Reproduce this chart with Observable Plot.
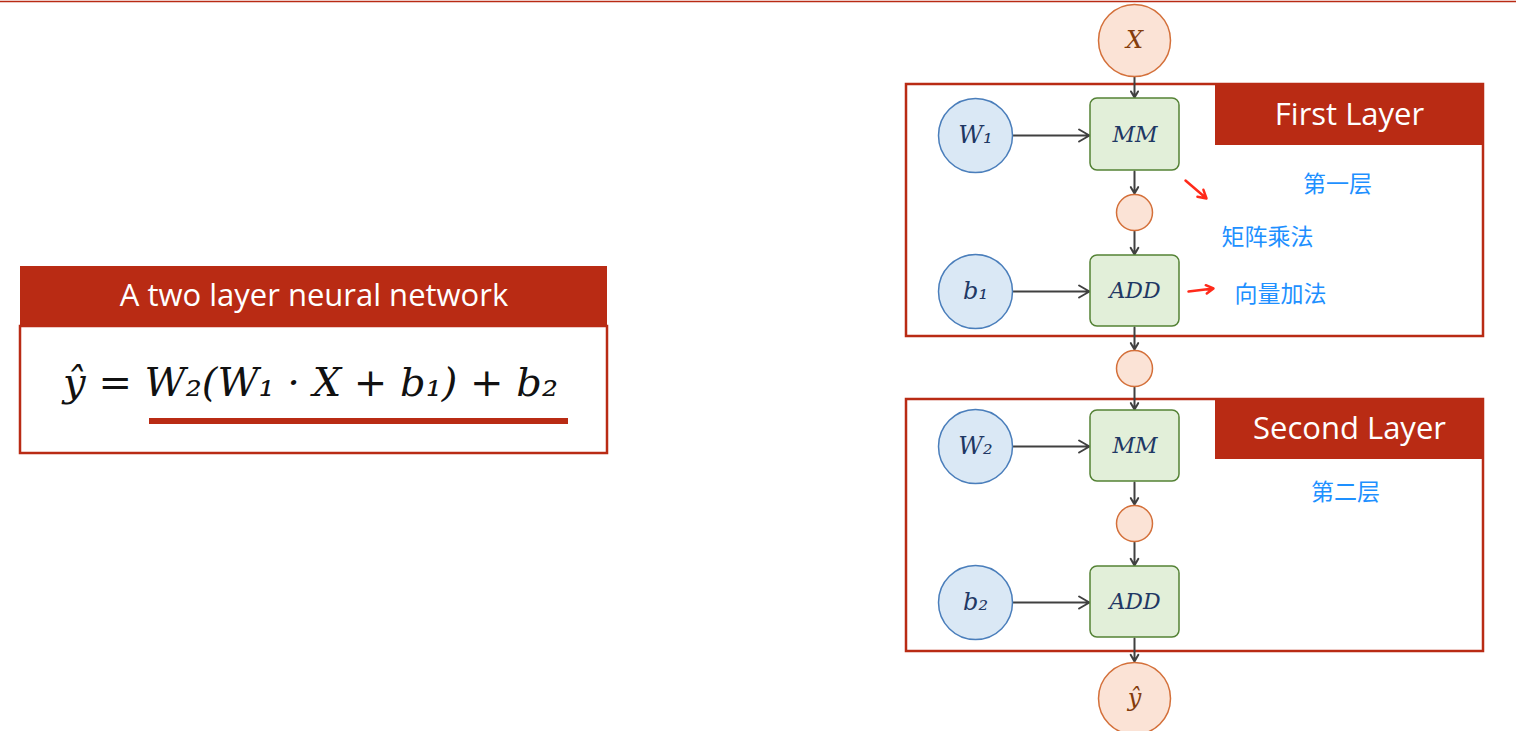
<!DOCTYPE html>
<html><head><meta charset="utf-8">
<script src="https://cdn.jsdelivr.net/npm/d3@7"></script>
<script src="https://cdn.jsdelivr.net/npm/@observablehq/plot@0.6"></script>
<style>body{margin:0;background:#fff}</style>
</head><body><div id="c"></div>
<script>
const RED = "#b92b14";
// layer frames
const frames = [{x1:906,x2:1483,y1:84,y2:336},{x1:906,x2:1483,y1:399,y2:651},{x1:20,x2:607,y1:326,y2:453}];
const headers = [
  {x1:1215,x2:1483,y1:84,y2:145,label:"First Layer"},
  {x1:1215,x2:1483,y1:399,y2:459,label:"Second Layer"},
  {x1:20,x2:607,y1:266,y2:326,label:"A two layer neural network"}];
// input/output circles
const ioNodes = [{x:1134,y:40,label:"X"},{x:1134,y:698,label:"ŷ"}];
const paramNodes = [{x:975,y:135,label:"W₁"},{x:975,y:291,label:"b₁"},{x:975,y:446,label:"W₂"},{x:975,y:602,label:"b₂"}];
const midNodes = [{x:1134,y:212},{x:1134,y:368},{x:1134,y:523}];
const opNodes = [
  {x1:1090,x2:1179,y1:98,y2:170,label:"MM"},
  {x1:1090,x2:1179,y1:255,y2:326,label:"ADD"},
  {x1:1090,x2:1179,y1:410,y2:481,label:"MM"},
  {x1:1090,x2:1179,y1:566,y2:637,label:"ADD"}];
const edges = [
  [1134,76,1134,97],[1013,135,1089,135],[1134,171,1134,193],[1134,231,1134,254],
  [1013,291,1089,291],[1134,327,1134,349],[1134,387,1134,409],[1013,446,1089,446],
  [1134,482,1134,504],[1134,542,1134,565],[1013,602,1089,602],[1134,638,1134,661]
].map(([x1,y1,x2,y2])=>({x1,y1,x2,y2}));
const redArrows = [{x1:1185,y1:180,x2:1206,y2:198},{x1:1188,y1:291,x2:1213,y2:288}];
const notes = [{x:1337,y:184,t:"第一层"},{x:1267,y:237,t:"矩阵乘法"},{x:1280,y:294,t:"向量加法"},{x:1345,y:492,t:"第二层"}];
const formula = [{x:310,y:383,t:"ŷ = W₂(W₁ · X + b₁) + b₂"}];
const underline = [{x1:149,x2:568,y1:418,y2:424}];
const topLine = [{x1:0,x2:1516,y:1}];

const serif = "'DejaVu Serif','Liberation Serif',serif";
const chart = Plot.plot({
  width:1516, height:731, margin:0,
  x:{domain:[0,1516], range:[0,1516], axis:null},
  y:{domain:[0,731], range:[0,731], axis:null},
  marks:[
    Plot.ruleY(topLine,{x1:"x1",x2:"x2",y:"y",stroke:RED,strokeWidth:1.5}),
    Plot.rect(frames,{x1:"x1",x2:"x2",y1:"y1",y2:"y2",fill:"none",stroke:RED,strokeWidth:2.5}),
    Plot.rect(headers,{x1:"x1",x2:"x2",y1:"y1",y2:"y2",fill:RED}),
    Plot.text(headers,{x:d=>(d.x1+d.x2)/2,y:d=>(d.y1+d.y2)/2,text:"label",fill:"white",fontSize:31,fontFamily:"'Open Sans','Noto Sans',sans-serif"}),
    Plot.rect(underline,{x1:"x1",x2:"x2",y1:"y1",y2:"y2",fill:RED}),
    Plot.text(formula,{x:"x",y:"y",text:"t",fontSize:40,fontStyle:"italic",fontFamily:serif,fill:"#111"}),
    Plot.arrow(edges,{x1:"x1",y1:"y1",x2:"x2",y2:"y2",stroke:"#404040",strokeWidth:2,headLength:9}),
    Plot.arrow(redArrows,{x1:"x1",y1:"y1",x2:"x2",y2:"y2",stroke:"#ff2a1a",strokeWidth:2.5,headLength:10}),
    Plot.dot(ioNodes,{x:"x",y:"y",r:36,fill:"#fbe3d6",stroke:"#d4703a",strokeWidth:1.5}),
    Plot.text(ioNodes,{x:"x",y:"y",text:"label",fontSize:24,fontStyle:"italic",fontFamily:serif,fill:"#843c0c"}),
    Plot.dot(midNodes,{x:"x",y:"y",r:18,fill:"#fbe3d6",stroke:"#d4703a",strokeWidth:1.5}),
    Plot.dot(paramNodes,{x:"x",y:"y",r:37,fill:"#dae8f5",stroke:"#4a7ebb",strokeWidth:1.5}),
    Plot.text(paramNodes,{x:"x",y:"y",text:"label",fontSize:24,fontStyle:"italic",fontFamily:serif,fill:"#1f3864"}),
    Plot.rect(opNodes,{x1:"x1",x2:"x2",y1:"y1",y2:"y2",fill:"#e2efd9",stroke:"#548235",strokeWidth:1.5,rx:7}),
    Plot.text(opNodes,{x:d=>(d.x1+d.x2)/2,y:d=>(d.y1+d.y2)/2,text:"label",fontSize:22,fontStyle:"italic",fontFamily:serif,fill:"#1f3864"}),
    Plot.text(notes,{x:"x",y:"y",text:"t",fontSize:23,fill:"#1e90ff",fontFamily:"'Noto Sans CJK SC',sans-serif"})
  ]
});
document.getElementById("c").append(chart);
</script></body></html>
